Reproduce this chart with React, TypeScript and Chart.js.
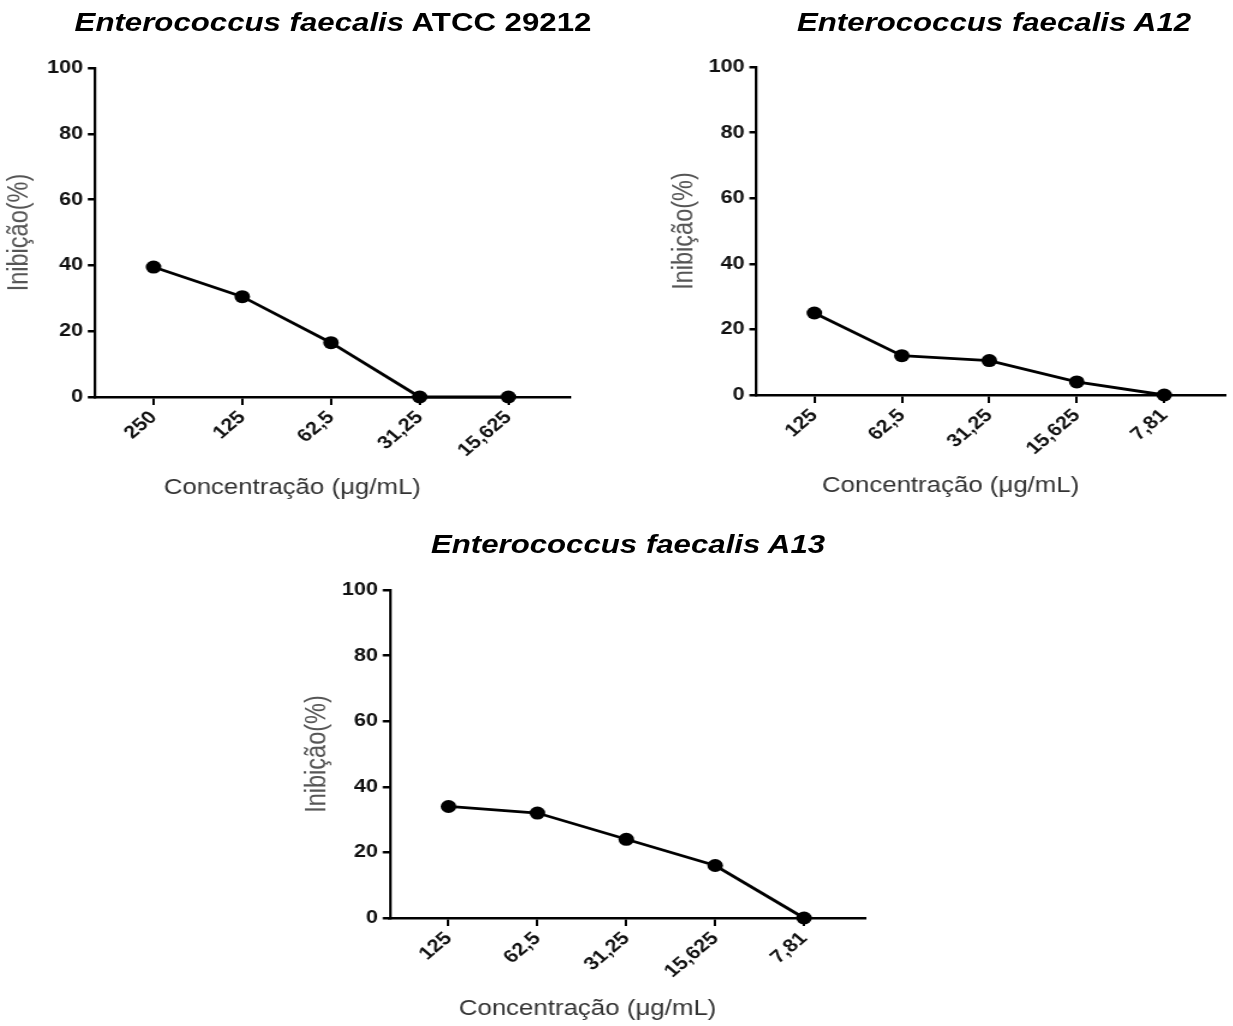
import React, { useEffect, useRef } from "react";
import { Chart, registerables } from "chart.js";

Chart.register(...registerables);

// ---------- data ----------
const labelsATCC = ["250", "125", "62,5", "31,25", "15,625"];
const valuesATCC = [39.5, 30.5, 16.5, 0, 0];

const labelsA12 = ["125", "62,5", "31,25", "15,625", "7,81"];
const valuesA12 = [25, 12, 10.5, 4, 0];

const labelsA13 = ["125", "62,5", "31,25", "15,625", "7,81"];
const valuesA13 = [34, 32, 24, 16, 0];

const yMin = 0;
const yMax = 100;
const yStep = 20;

const yAxisTitle = "Inibição(%)";
const xAxisTitle = "Concentração (μg/mL)";

// ---------- look ----------
const S = 1.2; // horizontal stretch of the reference picture
const FONT = '"Liberation Sans", Arial, Helvetica, sans-serif';

type Panel = {
  labels: string[];
  values: number[];
  left: number;
  top: number;
  width: number;
  height: number;
  areaLeft: number;
  areaRight: number;
  areaTop: number;
  areaBottom: number;
  yTitleX: number;
};

const xTitlePlugin = {
  id: "xTitleShift",
  afterDraw(chart: any, _args: any, opts: any) {
    const { ctx, chartArea } = chart;
    ctx.save();
    ctx.font = `21.5px ${FONT}`;
    ctx.fillStyle = "#333";
    ctx.textAlign = "center";
    ctx.textBaseline = "middle";
    ctx.fillText(
      opts.text,
      (chartArea.left + chartArea.right) / 2 + opts.dx,
      chartArea.bottom + opts.dy
    );
    ctx.restore();
  },
};

function LinePanel({ p }: { p: Panel }) {
  const ref = useRef<HTMLCanvasElement | null>(null);
  const W = p.width / S;
  const H = p.height;

  useEffect(() => {
    if (!ref.current) return;
    const cl = (p.areaLeft - p.left) / S;
    const cr = (p.areaRight - p.left) / S;
    const ct = p.areaTop - p.top;
    const cb = p.areaBottom - p.top;
    const titleSize = 23.5;
    const lh = titleSize * 1.2;
    const titlePadTop = 2;
    const yTitleLogical = (p.yTitleX - p.left) / S;
    const padLeft = Math.max(0, yTitleLogical - lh / 2 - titlePadTop);
    const yWidth = cl - padLeft;
    const padRight = W - cr;
    const xHeight = H - cb;

    const chart = new Chart(ref.current, {
      type: "line",
      data: {
        datasets: [
          {
            data: p.values.map((v, i) => ({ x: i, y: v })),
            borderColor: "#000",
            backgroundColor: "#000",
            borderWidth: 2.8,
            pointRadius: 6.5,
            pointHoverRadius: 6.5,
            pointBackgroundColor: "#000",
            pointBorderColor: "#000",
            pointBorderWidth: 0,
            tension: 0,
            clip: false as any,
          },
        ],
      },
      options: {
        animation: false,
        responsive: false,
        maintainAspectRatio: false,
        events: [],
        layout: { padding: { left: padLeft, right: padRight, top: ct, bottom: 0 } },
        plugins: {
          legend: { display: false },
          tooltip: { enabled: false },
          title: { display: false },
          xTitleShift: { text: xAxisTitle, dx: -40 / S, dy: 91 },
        } as any,
        scales: {
          x: {
            type: "linear",
            position: "bottom",
            min: -0.66,
            max: 4.69,
            afterBuildTicks: (scale: any) => {
              scale.ticks = p.labels.map((_, i) => ({ value: i }));
            },
            afterFit: (scale: any) => {
              scale.height = xHeight;
            },
            ticks: {
              autoSkip: false,
              minRotation: 45,
              maxRotation: 45,
              padding: 2,
              color: "#111",
              font: { family: FONT, size: 18, weight: "bold" },
              callback: (v: any) => p.labels[Number(v)] ?? "",
            },
            grid: {
              display: true,
              drawOnChartArea: false,
              drawTicks: true,
              tickLength: 8,
              color: "#000",
              lineWidth: 2,
            },
            border: { display: true, color: "#000", width: 2.6 },
            title: { display: false },
          },
          y: {
            type: "linear",
            position: "left",
            min: yMin,
            max: yMax,
            afterFit: (scale: any) => {
              scale.width = yWidth;
            },
            ticks: {
              stepSize: yStep,
              padding: 4,
              color: "#111",
              font: { family: FONT, size: 18, weight: "bold" },
            },
            grid: {
              display: true,
              drawOnChartArea: false,
              drawTicks: true,
              tickLength: 6,
              color: "#000",
              lineWidth: 2.5,
            },
            border: { display: true, color: "#000", width: 2.2 },
            title: {
              display: true,
              text: yAxisTitle,
              color: "#555",
              font: { family: FONT, size: titleSize, weight: "normal" },
              padding: { top: titlePadTop, bottom: 0 },
            },
          },
        },
      } as any,
      plugins: [xTitlePlugin as any],
    });
    return () => chart.destroy();
  }, []);

  return (
    <canvas
      ref={ref}
      width={W}
      height={H}
      style={{
        position: "absolute",
        left: p.left / S,
        top: p.top,
        width: W,
        height: H,
        display: "block",
      }}
    />
  );
}

const panels: Panel[] = [
  {
    labels: labelsATCC,
    values: valuesATCC,
    left: 0,
    top: 50,
    width: 616,
    height: 460,
    areaLeft: 95,
    areaRight: 570,
    areaTop: 68,
    areaBottom: 397,
    yTitleX: 20,
  },
  {
    labels: labelsA12,
    values: valuesA12,
    left: 616,
    top: 50,
    width: 617,
    height: 460,
    areaLeft: 757,
    areaRight: 1233,
    areaTop: 67,
    areaBottom: 395,
    yTitleX: 685,
  },
  {
    labels: labelsA13,
    values: valuesA13,
    left: 250,
    top: 570,
    width: 640,
    height: 456,
    areaLeft: 390,
    areaRight: 865,
    areaTop: 590,
    areaBottom: 918,
    yTitleX: 318,
  },
];

const titleStyle = (cx: number, top: number): React.CSSProperties => ({
  position: "absolute",
  left: cx / S,
  top,
  transform: "translateX(-50%)",
  whiteSpace: "nowrap",
  font: `bold 26px/26px ${FONT}`,
  color: "#000",
});

export default function App() {
  return (
    <div
      style={{
        position: "absolute",
        left: 0,
        top: 0,
        width: 1233,
        height: 1026,
        overflow: "hidden",
        background: "#fff",
      }}
    >
      <div
        style={{
          position: "absolute",
          left: 0,
          top: 0,
          width: 1233 / S,
          height: 1026,
          transform: `scaleX(${S})`,
          transformOrigin: "0 0",
        }}
      >
        <div style={titleStyle(333, 9)}>
          <i>Enterococcus faecalis</i> ATCC 29212
        </div>
        <div style={titleStyle(994, 9)}>
          <i>Enterococcus faecalis A12</i>
        </div>
        <div style={titleStyle(628, 531)}>
          <i>Enterococcus faecalis A13</i>
        </div>
        {panels.map((p, i) => (
          <LinePanel key={i} p={p} />
        ))}
      </div>
    </div>
  );
}
